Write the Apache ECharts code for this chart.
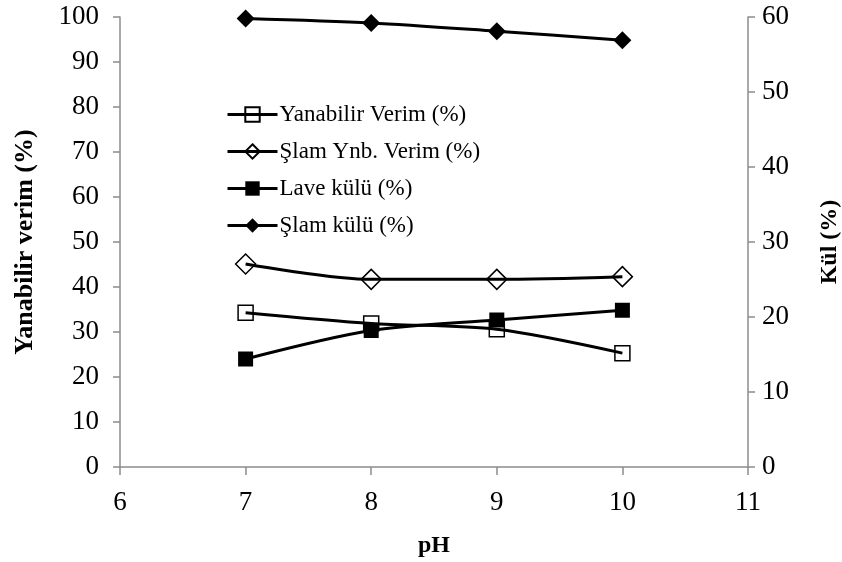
<!DOCTYPE html>
<html>
<head>
<meta charset="utf-8">
<script src="https://cdn.jsdelivr.net/npm/echarts@6/dist/echarts.min.js"></script>
<style>
  html, body { margin: 0; padding: 0; background: #fff; }
  #chart { width: 842px; height: 562px; }
</style>
</head>
<body>
<div id="chart"></div>
<script>
// pH values and measured series
const phValues = [7, 8, 9, 10];
const yanabilirVerim = [34.3, 31.9, 30.6, 25.3];   // left axis
const slamYnbVerim = [45.1, 41.7, 41.7, 42.3];     // left axis
const laveKulu = [14.4, 18.2, 19.6, 20.9];         // right axis
const slamKulu = [59.8, 59.2, 58.1, 56.9];         // right axis

const pairs = (ys) => phValues.map((x, i) => [x, ys[i]]);

const serif = '"Liberation Serif", "Times New Roman", serif';
const axisGray = '#8c8c8c';

const chart = echarts.init(document.getElementById('chart'));

function lineSeries(name, data, yAxisIndex, symbol, size, filled) {
  return {
    name: name,
    type: 'line',
    yAxisIndex: yAxisIndex,
    data: pairs(data),
    smooth: 0.3,
    symbol: symbol,
    symbolSize: size,
    showAllSymbol: true,
    lineStyle: { color: '#000', width: 3 },
    itemStyle: filled
      ? { color: '#000', borderColor: '#000', borderWidth: 0 }
      : { color: 'rgba(255,255,255,0)', borderColor: '#000', borderWidth: 1.5 },
    emphasis: { disabled: true },
    z: 3
  };
}

chart.setOption({
  animation: false,
  backgroundColor: '#fff',
  grid: { left: 120, right: 94, top: 17, bottom: 95, outerBoundsMode: 'none', containLabel: false },
  legend: {
    orient: 'vertical',
    left: 221,
    top: 98,
    itemWidth: 50,
    itemHeight: 18,
    itemGap: 14,
    lineStyle: { width: 3, color: '#000' },
    textStyle: { fontFamily: serif, fontSize: 23, color: '#000', padding: [0, 0, 0, -3] },
    data: ['Yanabilir Verim (%)', 'Şlam Ynb. Verim (%)', 'Lave külü (%)', 'Şlam külü (%)']
  },
  xAxis: {
    type: 'value',
    min: 6,
    max: 11,
    interval: 1,
    name: 'pH',
    nameLocation: 'middle',
    nameGap: 67,
    nameTextStyle: { fontFamily: serif, fontSize: 24, fontWeight: 'bold', color: '#000' },
    axisLine: { show: true, onZero: false, lineStyle: { color: axisGray, width: 1.5 } },
    axisTick: { show: true, length: 8, lineStyle: { color: axisGray, width: 1.5 } },
    axisLabel: { fontFamily: serif, fontSize: 27, color: '#000', margin: 22 },
    splitLine: { show: false }
  },
  yAxis: [
    {
      type: 'value',
      min: 0,
      max: 100,
      interval: 10,
      name: 'Yanabilir verim (%)',
      nameLocation: 'middle',
      nameGap: 82,
      nameRotate: 90,
      nameTextStyle: { fontFamily: serif, fontSize: 26, fontWeight: 'bold', color: '#000' },
      axisLine: { show: true, lineStyle: { color: axisGray, width: 1.5 } },
      axisTick: { show: true, length: 7, lineStyle: { color: axisGray, width: 1.5 } },
      axisLabel: { fontFamily: serif, fontSize: 27, color: '#000', margin: 21 },
      splitLine: { show: false }
    },
    {
      type: 'value',
      min: 0,
      max: 60,
      interval: 10,
      position: 'right',
      name: 'Kül (%)',
      nameLocation: 'middle',
      nameGap: 70,
      nameRotate: 90,
      nameTextStyle: { fontFamily: serif, fontSize: 24, fontWeight: 'bold', color: '#000' },
      axisLine: { show: true, lineStyle: { color: axisGray, width: 1.5 } },
      axisTick: { show: true, length: 7, lineStyle: { color: axisGray, width: 1.5 } },
      axisLabel: { fontFamily: serif, fontSize: 27, color: '#000', margin: 14 },
      splitLine: { show: false }
    }
  ],
  series: [
    lineSeries('Yanabilir Verim (%)', yanabilirVerim, 0, 'rect', 15, false),
    lineSeries('Şlam Ynb. Verim (%)', slamYnbVerim, 0, 'diamond', 20, false),
    lineSeries('Lave külü (%)', laveKulu, 1, 'rect', 15, true),
    lineSeries('Şlam külü (%)', slamKulu, 1, 'diamond', 18, true)
  ]
});
</script>
</body>
</html>
